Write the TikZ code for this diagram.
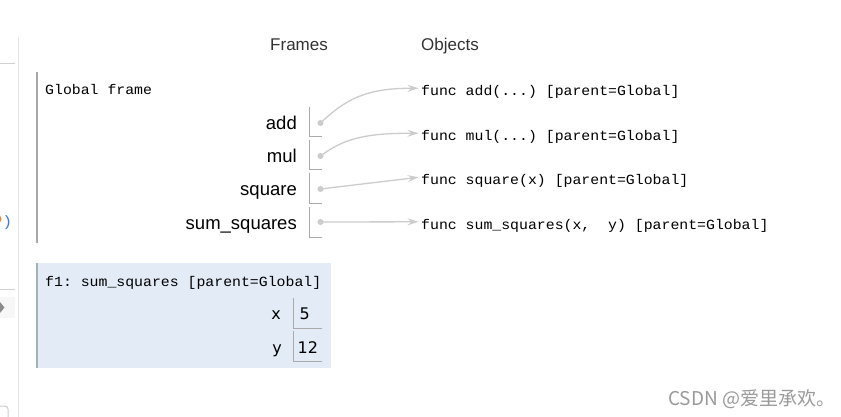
\documentclass[tikz,border=0pt]{standalone}
\usepackage{fontspec}
\setmainfont{Liberation Sans}
\newfontfamily\monof[FakeStretch=1.06]{Liberation Mono}
\newfontfamily\cjkf{Noto Sans CJK SC}
\newfontfamily\valf{DejaVu Sans}
\usetikzlibrary{arrows.meta}
\definecolor{leftline}{HTML}{E5E5E5}
\definecolor{frameline}{HTML}{A8A8A8}
\definecolor{hlblue}{HTML}{E2EBF6}
\definecolor{hlborder}{HTML}{A6B3B6}
\definecolor{cellline}{HTML}{AAAAAA}
\definecolor{ptrgray}{HTML}{CCCCCC}
\definecolor{hdrgray}{HTML}{333333}
\definecolor{codeblue}{HTML}{3C7DD8}
\definecolor{codeorange}{HTML}{E08A2C}
\definecolor{wmgray}{HTML}{9A9A9A}
\tikzset{
  mono/.style={font=\monof\fontsize{14}{16}\selectfont\frenchspacing, inner sep=0pt, anchor=base west, text=black},
  lbl/.style={font=\fontsize{18.5}{20}\selectfont, inner sep=0pt, anchor=base east, text=black},
  vlbl/.style={font=\valf\fontsize{16}{18}\selectfont, inner sep=0pt, anchor=base east, text=black},
  val/.style={font=\valf\fontsize{16}{18}\selectfont, inner sep=0pt, anchor=base west, text=black},
  hdr/.style={font=\fontsize{17}{20}\selectfont, inner sep=0pt, anchor=base west, text=hdrgray},
  ptr/.style={draw=ptrgray, line width=1.3pt, -{Stealth[length=11pt,width=7pt,inset=4pt]}},
  ptrdot/.style={circle, fill=ptrgray, inner sep=0pt, minimum size=6pt},
  cellbox/.style={draw=cellline, line width=1pt},
}
\begin{document}
\frenchspacing
\begin{tikzpicture}[x=1pt,y=-1pt]
\useasboundingbox[fill=white] (0,0) rectangle (841,417);

% left UI remnants
\draw[leftline, line width=1pt] (18.5,37) -- (18.5,417);
\draw[draw=black!18, line width=1pt] (0,64) -- (15,64);
\draw[draw=black!18, line width=1pt] (0,289) -- (15,289);
\fill[black!3] (0,297) rectangle (15,318);
\fill[black!45] (0,302) -- (4.5,307.5) -- (0,313) -- cycle;
\node[font=\monof\fontsize{15}{16}\selectfont, text=codeblue, inner sep=0pt, anchor=base west] (paren) at (2.5,226) {)};
\fill[codeorange] (-3,219) circle (4.5pt);
\draw[draw=black!20, line width=1pt, rounded corners=3pt] (-10,406) rectangle (8,430);

% headers
\node[hdr] (frames) at (270,51) {Frames};
\node[hdr] (objects) at (421,51) {Objects};

% Global frame
\draw[frameline, line width=1.2pt] (37,72) -- (37,243);
\node[mono] (gf) at (45,95) {Global frame};

\node[lbl] (ladd) at (297,130) {add};
\node[lbl] (lmul) at (297,163) {mul};
\node[lbl] (lsq) at (297,196) {square};
\node[lbl] (lsum) at (297,229) {sum\_squares};

\draw[cellbox] (309,107) -- (309,137) -- (322,137);
\draw[cellbox] (309,140) -- (309,170) -- (322,170);
\draw[cellbox] (309,173) -- (309,203) -- (322,203);
\draw[cellbox] (309,207) -- (309,237) -- (322,237);

\node[ptrdot] (dadd) at (320.5,123) {};
\node[ptrdot] (dmul) at (320.5,156) {};
\node[ptrdot] (dsq) at (320.5,189) {};
\node[ptrdot] (dsum) at (320.5,222) {};

% objects
\node[mono] (oadd) at (421,96) {func add(...) [parent=Global]};
\node[mono] (omul) at (421,141) {func mul(...) [parent=Global]};
\node[mono] (osq) at (421,185) {func square(x) [parent=Global]};
\node[mono] (osum) at (421,229.5) {func sum\_squares(x,\ \ y) [parent=Global]};

\draw[ptr] (dadd.center) .. controls (345,100) and (365,88) .. ([shift={(-2.5,-7.7)}]oadd.base west);
\draw[ptr] (dmul.center) .. controls (343,139) and (365,133) .. ([shift={(-2.5,-7.7)}]omul.base west);
\draw[ptr] (dsq.center) -- ([shift={(-2.5,-7.7)}]osq.base west);
\draw[ptr] (dsum.center) -- ([shift={(-2.5,-7.7)}]osum.base west);

% f1 frame
\fill[hlblue] (37,263) rectangle (331,368);
\draw[hlborder, line width=1.2pt] (37,263) -- (37,368);
\node[mono] (f1) at (45,286) {f1: sum\_squares [parent=Global]};
\node[vlbl] (vx) at (281,319.5) {x};
\draw[cellbox] (293,298) -- (293,328) -- (322,328);
\node[val] (v5) at (299.5,319.5) {5};
\node[vlbl] (vy) at (282,353.5) {y};
\draw[cellbox] (293,331) -- (293,361) -- (322,361);
\node[val] (v12) at (297.5,353.5) {12};

% watermark
\node[font=\cjkf\fontsize{19}{22}\selectfont, text=wmgray, inner sep=0pt, anchor=base west] (wm) at (668,405.5) {CSDN @爱里承欢。};
\end{tikzpicture}
\end{document}
